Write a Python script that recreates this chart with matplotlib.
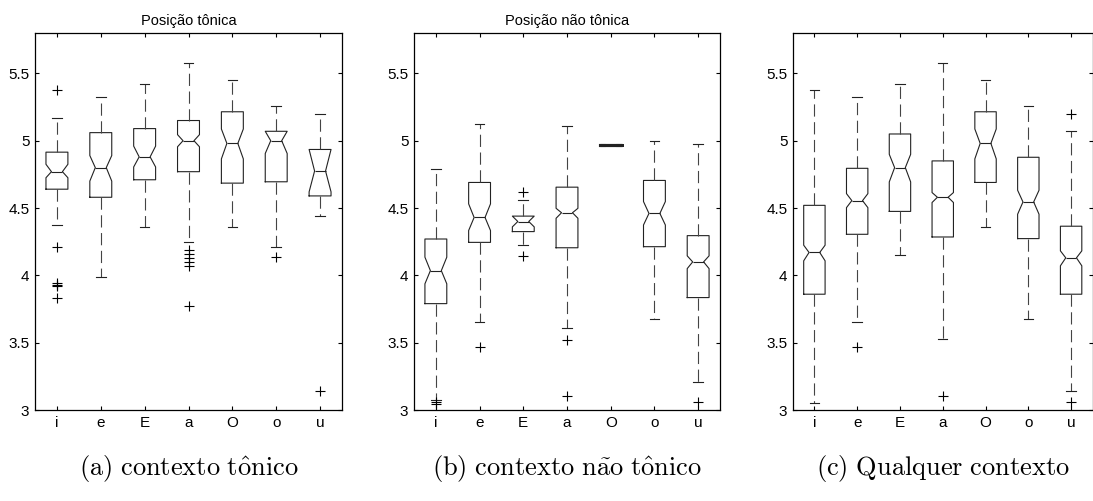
import matplotlib
matplotlib.use("Agg")
import matplotlib.pyplot as plt

plt.rcParams["font.family"] = ["Liberation Sans", "DejaVu Sans"]
plt.rcParams["mathtext.fontset"] = "cm"

vowels = ["i", "e", "E", "a", "O", "o", "u"]
titles = ["Posição tônica", "Posição não tônica", ""]
captions = [r"$\mathrm{(a)\ contexto\ t\hat{o}nico}$",
            r"$\mathrm{(b)\ contexto\ n\tilde{a}o\ t\hat{o}nico}$",
            r"$\mathrm{(c)\ Qualquer\ contexto}$"]

# one row per panel: tonica, nao tonica, qualquer
med = [[4.77, 4.80, 4.88, 5.00, 4.98, 5.00, 4.775],
       [4.035, 4.43, 4.40, 4.465, 4.97, 4.46, 4.10],
       [4.17, 4.555, 4.80, 4.58, 4.98, 4.545, 4.13]]
q1 = [[4.64, 4.58, 4.71, 4.77, 4.685, 4.695, 4.59],
      [3.79, 4.245, 4.325, 4.205, 4.97, 4.213, 3.835],
      [3.86, 4.305, 4.475, 4.285, 4.69, 4.273, 3.86]]
q3 = [[4.915, 5.06, 5.09, 5.15, 5.215, 5.07, 4.935],
      [4.27, 4.69, 4.44, 4.655, 4.97, 4.705, 4.295],
      [4.52, 4.795, 5.05, 4.85, 5.215, 4.877, 4.365]]
cilo = [[4.725, 4.70, 4.805, 4.955, 4.865, 4.905, 4.62],
        [3.937, 4.333, 4.36, 4.424, 4.97, 4.374, 4.05],
        [4.108, 4.503, 4.694, 4.541, 4.865, 4.454, 4.071]]
cihi = [[4.825, 4.89, 4.96, 5.045, 5.087, 5.07, 4.935],
        [4.135, 4.531, 4.44, 4.498, 4.97, 4.548, 4.145],
        [4.224, 4.607, 4.899, 4.615, 5.087, 4.632, 4.182]]
whislo = [[4.375, 3.99, 4.36, 4.25, 4.36, 4.207, 4.44],
          [3.075, 3.65, 4.226, 3.607, 4.97, 3.674, 3.206],
          [3.054, 3.653, 4.15, 3.524, 4.36, 3.678, 3.143]]
whishi = [[5.17, 5.327, 5.423, 5.579, 5.45, 5.255, 5.20],
          [4.79, 5.126, 4.56, 5.111, 4.97, 4.995, 4.977],
          [5.379, 5.327, 5.423, 5.579, 5.448, 5.255, 5.07]]
fliers = [[[5.38, 4.21, 3.94, 3.93, 3.92, 3.83], [], [],
           [4.19, 4.16, 4.13, 4.10, 4.07, 3.77], [], [4.133], [3.143]],
          [[3.058, 3.048], [3.47], [4.618, 4.145], [3.52, 3.104], [], [], [3.057]],
          [[], [3.47], [], [3.104], [], [], [5.20, 3.057]]]

fig = plt.figure(figsize=(10.93, 5.01), dpi=100)
lefts = [35 / 1093, 414 / 1093, 793 / 1093]
widths = [307 / 1093, 306 / 1093, 299.5 / 1093]

for k in range(3):
    ax = fig.add_axes([lefts[k], 91 / 501, widths[k], 377 / 501])
    stats = []
    for j in range(7):
        stats.append(dict(med=med[k][j], q1=q1[k][j], q3=q3[k][j],
                          whislo=whislo[k][j], whishi=whishi[k][j],
                          cilo=cilo[k][j], cihi=cihi[k][j],
                          fliers=fliers[k][j]))
    art = ax.bxp(stats, positions=range(1, 8), widths=0.5, capwidths=0.22,
                 shownotches=True, showfliers=True, patch_artist=False,
                 boxprops=dict(color="#222222", linewidth=0.8),
                 whiskerprops=dict(color="#444444", linewidth=0.8,
                                   linestyle=(0, (11, 5))),
                 capprops=dict(color="#222222", linewidth=0.8),
                 medianprops=dict(color="#222222", linewidth=0.8),
                 flierprops=dict(marker="+", markersize=7,
                                 markeredgecolor="black",
                                 markeredgewidth=0.8))
    if k == 1:
        # single-valued group: collapsed box drawn heavier
        art["boxes"][4].set_linewidth(2.2)
        art["medians"][4].set_linewidth(2.2)

    ax.set_xlim(0.5, 7.5)
    ax.set_ylim(3, 5.8)
    ax.set_xticks(range(1, 8))
    ax.set_xticklabels(vowels)
    ax.set_yticks([3, 3.5, 4, 4.5, 5, 5.5])
    ax.set_yticklabels(["3", "3.5", "4", "4.5", "5", "5.5"])
    ax.tick_params(direction="in", top=True, right=True, length=3,
                   width=0.8, labelsize=11, pad=4)
    for s in ax.spines.values():
        s.set_linewidth(0.9)
    if titles[k]:
        ax.set_title(titles[k], fontsize=10.5, pad=6)

    cx = lefts[k] + widths[k] / 2
    fig.text(cx, 1 - 468 / 501, captions[k], ha="center", va="center",
             fontsize=19)

fig.savefig("out.png", dpi=100)
